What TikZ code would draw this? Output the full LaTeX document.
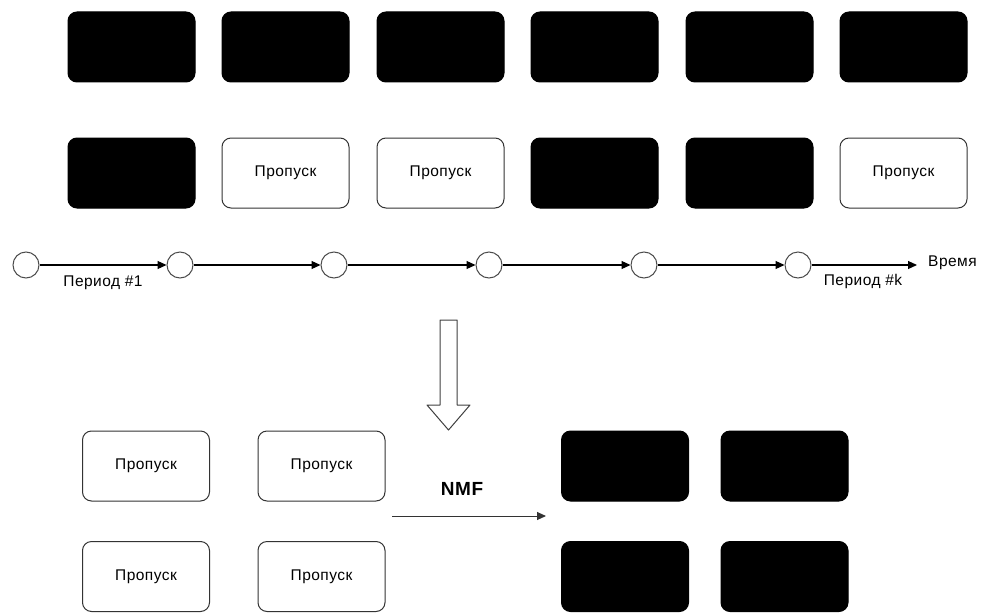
\documentclass[tikz,border=0pt]{standalone}
\usepackage{fontspec}
\setmainfont{Liberation Sans}[LetterSpace=3]
\usetikzlibrary{arrows.meta}
\begin{document}
\begin{tikzpicture}[x=1pt,y=-1pt,
  blk/.style={draw=black,fill=black,rounded corners=9pt,minimum width=127pt,minimum height=70pt,inner sep=0pt,line width=1pt},
  gap/.style={draw=black!80,fill=white,rounded corners=9pt,minimum width=127pt,minimum height=70pt,inner sep=0pt,line width=1pt,font=\fontsize{15.5}{17}\selectfont},
  circ/.style={draw=black!70,circle,minimum size=26pt,inner sep=0pt,line width=1pt},
  tl/.style={line width=1.1pt,-{Triangle[length=9pt,width=8pt]}},
  lbl/.style={font=\fontsize{15.5}{17}\selectfont,inner sep=0pt}
]
\useasboundingbox (0,0) rectangle (981,615);
% top row
\foreach \i/\x in {1/131.5,2/285.5,3/440.5,4/594.5,5/749.5,6/903.5}{
  \node[blk] (t\i) at (\x,47) {};
}
% second row
\node[blk] (s1) at (131.5,173) {};
\node[gap] (s2) at (285.5,173) {Пропуск};
\node[gap] (s3) at (440.5,173) {Пропуск};
\node[blk] (s4) at (594.5,173) {};
\node[blk] (s5) at (749.5,173) {};
\node[gap] (s6) at (903.5,173) {Пропуск};
% timeline
\foreach \i/\x in {1/26,2/180,3/334,4/489,5/644,6/798}{
  \node[circ] (c\i) at (\x,265) {};
}
\coordinate (tend) at (917,265);
\draw[tl] (c1) -- (c2);
\draw[tl] (c2) -- (c3);
\draw[tl] (c3) -- (c4);
\draw[tl] (c4) -- (c5);
\draw[tl] (c5) -- (c6);
\draw[tl] (c6) -- (tend);
\node[lbl,anchor=west] (time) at (928,263) {Время};
\node[lbl] (p1) at (103,283) {Период \#1};
\node[lbl] (pk) at (863,281) {Период \#k};
% big hollow arrow
\draw[draw=black!75,fill=white,line width=1pt,line join=round]
  (440,320) -- (457,320) -- (457,405) -- (470,405) -- (448.5,430)
  -- (427,405) -- (440,405) -- cycle;
% bottom left
\node[gap] (b1) at (146,466) {Пропуск};
\node[gap] (b2) at (321.5,466) {Пропуск};
\node[gap] (b3) at (146,576.5) {Пропуск};
\node[gap] (b4) at (321.5,576.5) {Пропуск};
% bottom right
\node[blk] (r1) at (625,466) {};
\node[blk] (r2) at (784.5,466) {};
\node[blk] (r3) at (625,576.5) {};
\node[blk] (r4) at (784.5,576.5) {};
% NMF
\node[font=\fontsize{19}{21}\selectfont\bfseries,inner sep=0pt] (nmf) at (462,489) {NMF};
\coordinate (na) at (392,516);
\coordinate (nb) at (546,516);
\draw[line width=1pt,draw=black!80,-{Triangle[length=9pt,width=8pt]}] (na) -- (nb);
\end{tikzpicture}
\end{document}
